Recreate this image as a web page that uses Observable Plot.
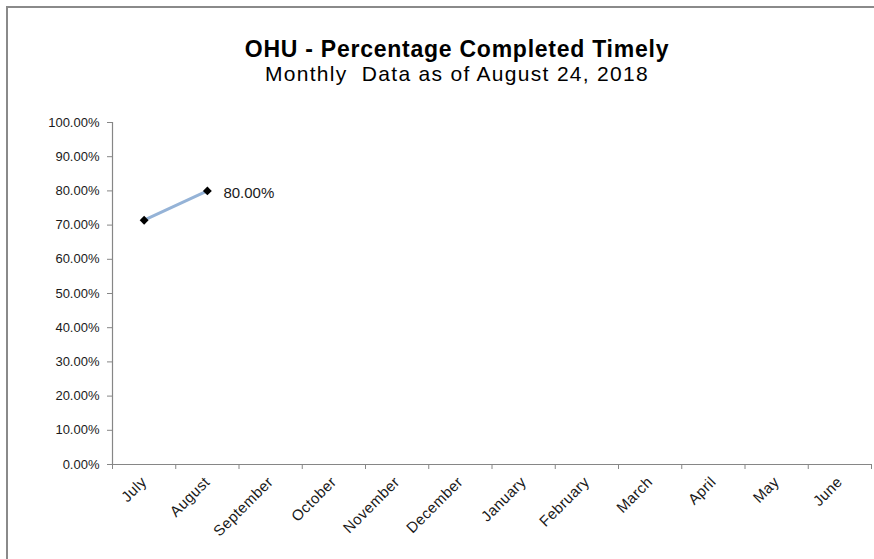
<!DOCTYPE html>
<html>
<head>
<meta charset="utf-8">
<script src="https://cdn.jsdelivr.net/npm/d3@7"></script>
<script src="https://cdn.jsdelivr.net/npm/@observablehq/plot@0.6"></script>
<style>
  html, body { margin: 0; padding: 0; background: #fff; }
  #wrap { position: relative; width: 874px; height: 559px; overflow: hidden; font-family: "Liberation Sans", Arial, sans-serif; }
  #frame { position: absolute; left: 6px; top: 6px; width: 1000px; height: 1000px; border-top: 2px solid #8a8a8a; border-left: 2px solid #8a8a8a; }
  #titles { position: absolute; left: 0; top: 0; width: 914px; height: 100px; text-align: center; color: #000; }
  #t1 { position: absolute; left: 0; width: 100%; top: 36px; font-size: 23px; font-weight: bold; letter-spacing: 0.75px; line-height: 26px; white-space: nowrap; }
  #t2 { position: absolute; left: 0; width: 100%; top: 62px; font-size: 21px; letter-spacing: 1.3px; line-height: 24px; white-space: nowrap; }
  #chart { position: absolute; left: 0; top: 100px; }
  #chart g[aria-label="x-axis tick label"] text { letter-spacing: 0.4px; }
</style>
</head>
<body>
<div id="wrap">
  <div id="frame"></div>
  <div id="titles">
    <div id="t1">OHU - Percentage Completed Timely</div>
    <div id="t2">Monthly&nbsp; Data as of August 24, 2018</div>
  </div>
  <div id="chart"></div>
</div>
<script>
const months = ["July","August","September","October","November","December","January","February","March","April","May","June"];
const values = [71.43, 80.00];
const labelValues = [null, 80.00];
const yTicks = [0,10,20,30,40,50,60,70,80,90,100];

const data = values.map((v, i) => ({i: i + 0.5, month: months[i], v, label: labelValues[i]}));
const bounds = d3.range(0, months.length + 1);
const centers = months.map((m, i) => i + 0.5);

const chart = Plot.plot({
  width: 874,
  height: 459,
  marginLeft: 112,
  marginRight: 3,
  marginTop: 22,
  marginBottom: 95,
  style: {fontFamily: "'Liberation Sans', Arial, sans-serif", fontSize: "13px", color: "#1a1a1a", background: "transparent"},
  x: {type: "linear", domain: [0, months.length]},
  y: {domain: [0, 100]},
  marks: [
    Plot.axisY({ticks: yTicks, tickFormat: d => d.toFixed(2) + "%", tickSize: 5, tickPadding: 8, stroke: "#868686", label: null, fontSize: 13}),
    Plot.axisX({ticks: bounds, tickFormat: () => "", tickSize: 5, stroke: "#868686", label: null}),
    Plot.axisX({ticks: centers, tickFormat: d => months[Math.floor(d)], tickSize: 0, tickPadding: 15, tickRotate: -45, label: null, fontSize: 15}),
    Plot.ruleX([0], {stroke: "#868686", strokeWidth: 1.2}),
    Plot.ruleY([0], {stroke: "#868686", strokeWidth: 1.2}),
    Plot.line(data, {x: "i", y: "v", stroke: "#95b3d7", strokeWidth: 3}),
    Plot.dot(data, {x: "i", y: "v", symbol: "diamond2", r: 4, fill: "#000", stroke: "none"}),
    Plot.text(data.filter(d => d.label != null), {x: "i", y: "label", text: d => d.label.toFixed(2) + "%", textAnchor: "start", dx: 16, dy: 2, fontSize: 15, fill: "#1a1a1a"})
  ]
});
document.getElementById("chart").appendChild(chart);
</script>
</body>
</html>
